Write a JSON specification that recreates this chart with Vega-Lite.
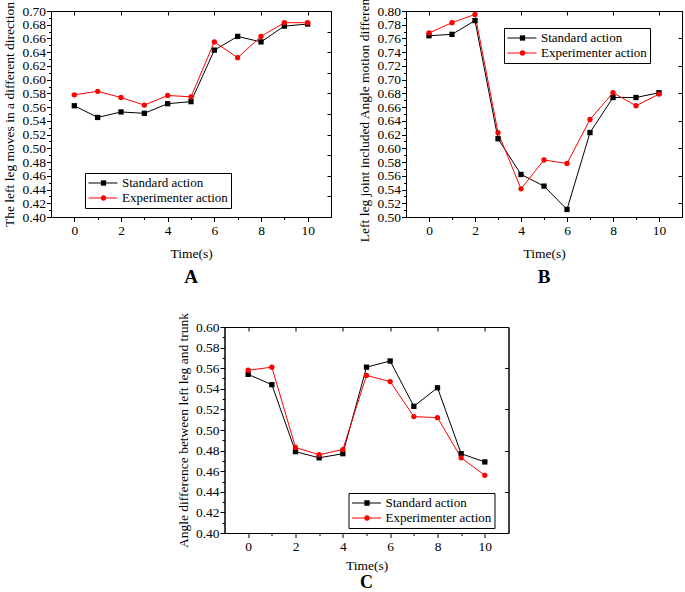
{
  "$schema": "https://vega.github.io/schema/vega-lite/v6.json",
  "background": "white",
  "padding": {"left": 2, "top": -15, "right": 0, "bottom": 0},
  "config": {
    "font": "Liberation Serif",
    "view": {"stroke": "black", "strokeWidth": 1},
    "axis": {"domainColor": "black", "tickColor": "black", "labelColor": "black", "titleColor": "black", "grid": false, "labelFont": "Liberation Serif", "titleFont": "Liberation Serif", "labelFontSize": 13.5, "titleFontSize": 13.5, "titleFontWeight": "normal", "domainWidth": 1, "tickWidth": 1},
    "legend": {"labelFont": "Liberation Serif", "labelFontSize": 13, "labelColor": "black", "clipHeight": 14, "rowPadding": 1, "padding": 3, "labelOffset": 4},
    "title": {"font": "Liberation Serif", "fontSize": 19, "fontWeight": "bold", "color": "black"}
  },
  "datasets": {
    "A": [
      {"t": 0, "v": 0.562, "series": "Standard action"},
      {"t": 1, "v": 0.545, "series": "Standard action"},
      {"t": 2, "v": 0.553, "series": "Standard action"},
      {"t": 3, "v": 0.551, "series": "Standard action"},
      {"t": 4, "v": 0.565, "series": "Standard action"},
      {"t": 5, "v": 0.568, "series": "Standard action"},
      {"t": 6, "v": 0.643, "series": "Standard action"},
      {"t": 7, "v": 0.663, "series": "Standard action"},
      {"t": 8, "v": 0.655, "series": "Standard action"},
      {"t": 9, "v": 0.678, "series": "Standard action"},
      {"t": 10, "v": 0.681, "series": "Standard action"},
      {"t": 0, "v": 0.578, "series": "Experimenter action"},
      {"t": 1, "v": 0.583, "series": "Experimenter action"},
      {"t": 2, "v": 0.574, "series": "Experimenter action"},
      {"t": 3, "v": 0.563, "series": "Experimenter action"},
      {"t": 4, "v": 0.577, "series": "Experimenter action"},
      {"t": 5, "v": 0.575, "series": "Experimenter action"},
      {"t": 6, "v": 0.655, "series": "Experimenter action"},
      {"t": 7, "v": 0.632, "series": "Experimenter action"},
      {"t": 8, "v": 0.663, "series": "Experimenter action"},
      {"t": 9, "v": 0.683, "series": "Experimenter action"},
      {"t": 10, "v": 0.683, "series": "Experimenter action"}
    ],
    "B": [
      {"t": 0, "v": 0.764, "series": "Standard action"},
      {"t": 1, "v": 0.766, "series": "Standard action"},
      {"t": 2, "v": 0.786, "series": "Standard action"},
      {"t": 3, "v": 0.614, "series": "Standard action"},
      {"t": 4, "v": 0.562, "series": "Standard action"},
      {"t": 5, "v": 0.545, "series": "Standard action"},
      {"t": 6, "v": 0.511, "series": "Standard action"},
      {"t": 7, "v": 0.623, "series": "Standard action"},
      {"t": 8, "v": 0.674, "series": "Standard action"},
      {"t": 9, "v": 0.674, "series": "Standard action"},
      {"t": 10, "v": 0.681, "series": "Standard action"},
      {"t": 0, "v": 0.768, "series": "Experimenter action"},
      {"t": 1, "v": 0.783, "series": "Experimenter action"},
      {"t": 2, "v": 0.795, "series": "Experimenter action"},
      {"t": 3, "v": 0.623, "series": "Experimenter action"},
      {"t": 4, "v": 0.541, "series": "Experimenter action"},
      {"t": 5, "v": 0.583, "series": "Experimenter action"},
      {"t": 6, "v": 0.578, "series": "Experimenter action"},
      {"t": 7, "v": 0.642, "series": "Experimenter action"},
      {"t": 8, "v": 0.681, "series": "Experimenter action"},
      {"t": 9, "v": 0.662, "series": "Experimenter action"},
      {"t": 10, "v": 0.679, "series": "Experimenter action"}
    ],
    "C": [
      {"t": 0, "v": 0.554, "series": "Standard action"},
      {"t": 1, "v": 0.544, "series": "Standard action"},
      {"t": 2, "v": 0.479, "series": "Standard action"},
      {"t": 3, "v": 0.473, "series": "Standard action"},
      {"t": 4, "v": 0.477, "series": "Standard action"},
      {"t": 5, "v": 0.561, "series": "Standard action"},
      {"t": 6, "v": 0.567, "series": "Standard action"},
      {"t": 7, "v": 0.523, "series": "Standard action"},
      {"t": 8, "v": 0.541, "series": "Standard action"},
      {"t": 9, "v": 0.477, "series": "Standard action"},
      {"t": 10, "v": 0.469, "series": "Standard action"},
      {"t": 0, "v": 0.558, "series": "Experimenter action"},
      {"t": 1, "v": 0.561, "series": "Experimenter action"},
      {"t": 2, "v": 0.483, "series": "Experimenter action"},
      {"t": 3, "v": 0.476, "series": "Experimenter action"},
      {"t": 4, "v": 0.481, "series": "Experimenter action"},
      {"t": 5, "v": 0.553, "series": "Experimenter action"},
      {"t": 6, "v": 0.547, "series": "Experimenter action"},
      {"t": 7, "v": 0.513, "series": "Experimenter action"},
      {"t": 8, "v": 0.512, "series": "Experimenter action"},
      {"t": 9, "v": 0.473, "series": "Experimenter action"},
      {"t": 10, "v": 0.456, "series": "Experimenter action"}
    ]
  },
  "vconcat": [
    {
      "hconcat": [
        {
          "width": 280, "height": 206,
          "data": {"name": "A"},
          "title": {"text": "A", "orient": "bottom", "offset": 8},
          "layer": [
            {
              "mark": {"type": "line", "strokeWidth": 1},
              "encoding": {
                "x": {"field": "t", "type": "quantitative", "scale": {"domain": [-1, 11], "nice": false, "zero": false},
                  "axis": {"title": "Time(s)", "values": [0,1,2,3,4,5,6,7,8,9,10], "labelExpr": "datum.value % 2 == 0 ? '' + datum.value : ''", "tickSize": {"condition": {"test": "datum.value % 2 == 1", "value": 2.5}, "value": 4.5}, "labelPadding": 2, "titlePadding": 9}},
                "y": {"field": "v", "type": "quantitative", "scale": {"domain": [0.4, 0.7], "nice": false, "zero": false},
                  "axis": {"title": "The left leg moves in a different direction", "values": [0.40,0.41,0.42,0.43,0.44,0.45,0.46,0.47,0.48,0.49,0.50,0.51,0.52,0.53,0.54,0.55,0.56,0.57,0.58,0.59,0.60,0.61,0.62,0.63,0.64,0.65,0.66,0.67,0.68,0.69,0.70], "labelExpr": "round(datum.value*100) % 2 == 0 ? format(datum.value, '.2f') : ''", "tickSize": {"condition": {"test": "round(datum.value*100) % 2 == 1", "value": 2.5}, "value": 4.5}, "labelPadding": 1, "titlePadding": 5}},
                "stroke": {"field": "series", "type": "nominal", "scale": {"domain": ["Standard action", "Experimenter action"], "range": ["black", "red"]},
                  "legend": {"orient": "none", "legendX": 34, "legendY": 162, "title": null, "symbolType": "stroke", "symbolSize": 841, "symbolStrokeWidth": 1, "strokeColor": "black"}}
              }
            },
            {
              "transform": [{"calculate": "datum.series == 'Standard action' ? 'S' : 'E'", "as": "s2"}],
              "mark": {"type": "point", "filled": true, "opacity": 1, "size": 28},
              "encoding": {
                "x": {"field": "t", "type": "quantitative", "axis": {"orient": "top", "values": [0,2,4,6,8,10], "labels": false, "title": null, "tickSize": -4}},
                "y": {"field": "v", "type": "quantitative", "axis": {"orient": "right", "values": [0.43,0.46,0.49,0.52,0.55,0.58,0.61,0.64,0.67], "labels": false, "title": null, "tickSize": -4}},
                "fill": {"field": "s2", "type": "nominal", "scale": {"domain": ["S", "E"], "range": ["black", "red"]},
                  "legend": {"orient": "none", "legendX": 43, "legendY": 162, "title": null, "symbolSize": 28, "symbolStrokeWidth": 0, "labelOpacity": 0}},
                "shape": {"field": "s2", "type": "nominal", "scale": {"domain": ["S", "E"], "range": ["square", "circle"]}}
              }
            }
          ],
          "resolve": {"axis": {"x": "independent", "y": "independent"}}
        },
        {
          "width": 276, "height": 206,
          "data": {"name": "B"},
          "title": {"text": "B", "orient": "bottom", "offset": 8},
          "layer": [
            {
              "mark": {"type": "line", "strokeWidth": 1},
              "encoding": {
                "x": {"field": "t", "type": "quantitative", "scale": {"domain": [-1, 11], "nice": false, "zero": false},
                  "axis": {"title": "Time(s)", "values": [0,1,2,3,4,5,6,7,8,9,10], "labelExpr": "datum.value % 2 == 0 ? '' + datum.value : ''", "tickSize": {"condition": {"test": "datum.value % 2 == 1", "value": 2.5}, "value": 4.5}, "labelPadding": 2, "titlePadding": 9}},
                "y": {"field": "v", "type": "quantitative", "scale": {"domain": [0.5, 0.8], "nice": false, "zero": false},
                  "axis": {"title": "Left leg joint included Angle motion difference", "values": [0.50,0.51,0.52,0.53,0.54,0.55,0.56,0.57,0.58,0.59,0.60,0.61,0.62,0.63,0.64,0.65,0.66,0.67,0.68,0.69,0.70,0.71,0.72,0.73,0.74,0.75,0.76,0.77,0.78,0.79,0.80], "labelExpr": "round(datum.value*100) % 2 == 0 ? format(datum.value, '.2f') : ''", "tickSize": {"condition": {"test": "round(datum.value*100) % 2 == 1", "value": 2.5}, "value": 4.5}, "labelPadding": 1, "titlePadding": 5}},
                "stroke": {"field": "series", "type": "nominal", "scale": {"domain": ["Standard action", "Experimenter action"], "range": ["black", "red"]},
                  "legend": {"orient": "none", "legendX": 98, "legendY": 17, "title": null, "symbolType": "stroke", "symbolSize": 841, "symbolStrokeWidth": 1, "strokeColor": "black"}}
              }
            },
            {
              "transform": [{"calculate": "datum.series == 'Standard action' ? 'S' : 'E'", "as": "s2"}],
              "mark": {"type": "point", "filled": true, "opacity": 1, "size": 28},
              "encoding": {
                "x": {"field": "t", "type": "quantitative", "axis": {"orient": "top", "values": [0,2,4,6,8,10], "labels": false, "title": null, "tickSize": -4}},
                "y": {"field": "v", "type": "quantitative", "axis": {"orient": "right", "values": [0.52,0.56,0.60,0.64,0.68,0.72,0.76], "labels": false, "title": null, "tickSize": -4}},
                "fill": {"field": "s2", "type": "nominal", "scale": {"domain": ["S", "E"], "range": ["black", "red"]},
                  "legend": {"orient": "none", "legendX": 107, "legendY": 17, "title": null, "symbolSize": 28, "symbolStrokeWidth": 0, "labelOpacity": 0}},
                "shape": {"field": "s2", "type": "nominal", "scale": {"domain": ["S", "E"], "range": ["square", "circle"]}}
              }
            }
          ],
          "resolve": {"axis": {"x": "independent", "y": "independent"}}
        }
      ],
      "spacing": 25,
      "resolve": {"scale": {"stroke": "independent", "fill": "independent", "shape": "independent"}}
    },
    {
      "width": 284, "height": 206,
      "data": {"name": "C"},
      "title": {"text": "C", "orient": "bottom", "offset": 2, "fontSize": 18},
      "layer": [
        {
          "mark": {"type": "line", "strokeWidth": 1},
          "encoding": {
            "x": {"field": "t", "type": "quantitative", "scale": {"domain": [-1, 11], "nice": false, "zero": false},
              "axis": {"title": "Time(s)", "values": [0,1,2,3,4,5,6,7,8,9,10], "labelExpr": "datum.value % 2 == 0 ? '' + datum.value : ''", "tickSize": {"condition": {"test": "datum.value % 2 == 1", "value": 2.5}, "value": 4.5}, "labelPadding": 2, "titlePadding": 5}},
            "y": {"field": "v", "type": "quantitative", "scale": {"domain": [0.4, 0.6], "nice": false, "zero": false},
              "axis": {"title": "Angle difference between left leg and trunk", "values": [0.40,0.41,0.42,0.43,0.44,0.45,0.46,0.47,0.48,0.49,0.50,0.51,0.52,0.53,0.54,0.55,0.56,0.57,0.58,0.59,0.60], "labelExpr": "round(datum.value*100) % 2 == 0 ? format(datum.value, '.2f') : ''", "tickSize": {"condition": {"test": "round(datum.value*100) % 2 == 1", "value": 2.5}, "value": 4.5}, "labelPadding": 1, "titlePadding": 5}},
            "stroke": {"field": "series", "type": "nominal", "scale": {"domain": ["Standard action", "Experimenter action"], "range": ["black", "red"]},
              "legend": {"orient": "none", "legendX": 124, "legendY": 166, "title": null, "symbolType": "stroke", "symbolSize": 841, "symbolStrokeWidth": 1, "strokeColor": "black"}}
          }
        },
        {
          "transform": [{"calculate": "datum.series == 'Standard action' ? 'S' : 'E'", "as": "s2"}],
          "mark": {"type": "point", "filled": true, "opacity": 1, "size": 28},
          "encoding": {
            "x": {"field": "t", "type": "quantitative", "axis": {"orient": "top", "values": [0,2,4,6,8,10], "labels": false, "title": null, "tickSize": -4}},
            "y": {"field": "v", "type": "quantitative", "axis": {"orient": "right", "values": [0.44,0.48,0.52,0.56], "labels": false, "title": null, "tickSize": -4}},
            "fill": {"field": "s2", "type": "nominal", "scale": {"domain": ["S", "E"], "range": ["black", "red"]},
              "legend": {"orient": "none", "legendX": 133, "legendY": 166, "title": null, "symbolSize": 28, "symbolStrokeWidth": 0, "labelOpacity": 0}},
            "shape": {"field": "s2", "type": "nominal", "scale": {"domain": ["S", "E"], "range": ["square", "circle"]}}
          }
        }
      ],
      "resolve": {"axis": {"x": "independent", "y": "independent"}}
    }
  ],
  "spacing": 24,
  "center": true,
  "resolve": {"scale": {"stroke": "independent", "fill": "independent", "shape": "independent"}}
}
